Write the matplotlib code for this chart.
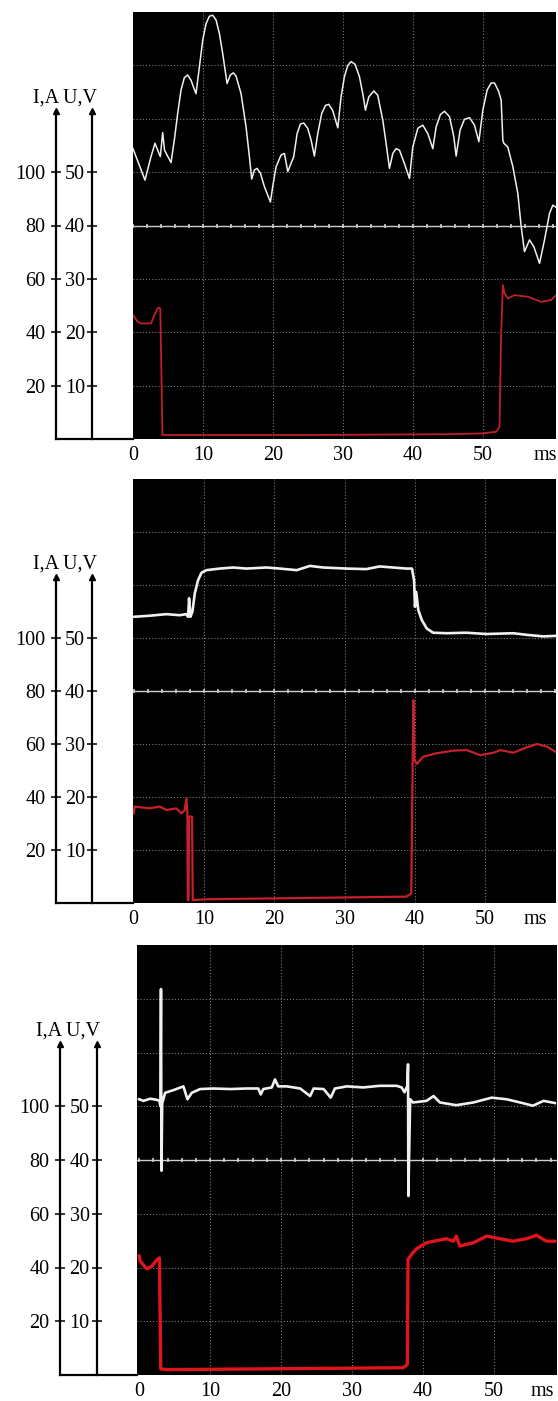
import numpy as np
import matplotlib
matplotlib.use("Agg")
import matplotlib.pyplot as plt
from matplotlib import transforms

plt.rcParams['font.family'] = ['Liberation Serif', 'DejaVu Serif']

# ---------------- data ----------------
# Panel 1
t1_u = [0.0, 1.71, 2.57, 3.14, 3.9, 4.24, 4.5, 5.43, 5.9, 6.38, 6.86, 7.33, 7.81, 8.29, 8.76, 9.0,
        9.48, 9.95, 10.43, 10.9, 11.38, 11.86, 12.33, 12.81, 13.43, 13.9, 14.33, 14.71, 15.43, 16.14,
        16.62, 16.95, 17.33, 17.71, 18.19, 18.76, 19.62, 19.95, 20.43, 21.14, 21.62, 22.1, 22.95,
        23.43, 23.9, 24.38, 24.95, 25.43, 25.9, 26.38, 26.95, 27.48, 27.95, 28.5, 29.24, 29.71,
        30.19, 30.67, 31.14, 31.71, 32.33, 32.81, 33.19, 33.67, 34.38, 34.95, 35.67, 36.14, 36.62,
        37.1, 37.57, 38.05, 38.76, 39.48, 39.95, 40.67, 41.38, 42.1, 42.81, 43.29, 43.9, 44.48,
        45.19, 45.81, 46.14, 46.71, 47.33, 48.05, 48.76, 49.38, 49.95, 50.57, 51.14, 51.62, 52.19,
        52.57, 52.81, 52.95, 53.52, 54.24, 54.95, 55.43, 55.9, 56.62, 57.24, 58.05, 58.76, 59.48,
        59.95, 60.67]
u1 = [54.4, 48.5, 52.9, 55.4, 52.9, 57.4, 54.1, 51.8, 56.0, 61.0, 65.4, 67.7, 68.2, 67.2, 65.5, 64.7,
      69.7, 74.7, 77.8, 79.2, 79.4, 78.5, 76.0, 72.2, 66.6, 68.2, 68.6, 68.0, 64.7, 58.5,
      52.9, 48.7, 50.4, 50.7, 49.8, 47.3, 44.4, 47.3, 51.0, 53.2, 53.5, 50.1, 52.9,
      57.2, 59.0, 59.2, 58.2, 56.0, 53.0, 57.2, 61.0, 62.5, 62.7, 61.6, 58.3, 64.1,
      67.9, 70.0, 70.7, 70.2, 67.9, 64.7, 61.6, 64.1, 65.2, 64.4, 59.7, 55.4, 50.7,
      53.5, 54.4, 54.1, 51.6, 48.8, 54.7, 58.2, 58.8, 57.2, 54.4, 58.5, 60.8, 61.4,
      60.4, 56.6, 53.0, 57.9, 59.9, 60.2, 58.8, 55.7, 61.6, 65.4, 66.7, 66.7, 65.2,
      63.5, 56.0, 55.4, 54.7, 51.0, 46.0, 39.8, 35.1, 37.3, 36.0, 32.9, 37.3, 42.3,
      43.8, 43.2]
t1_i = [0.0, 0.67, 1.14, 2.57, 3.05, 3.62, 3.9, 4.2, 4.24, 25.0, 45.0, 49.9, 51.86, 52.33, 52.57,
        52.81, 53.05, 53.52, 54.48, 56.38, 58.29, 59.71, 60.43]
i1 = [46.4, 43.9, 43.3, 43.3, 46.4, 49.3, 48.9, 1.5, 1.5, 1.5, 1.8, 2.1, 2.7, 4.6, 39.6,
      57.7, 54.6, 52.7, 53.9, 53.3, 51.4, 52.1, 53.9]

# Panel 2
t2_u = [0.0, 2.28, 4.65, 6.55, 7.5, 7.74, 7.88, 8.07, 8.36, 8.69, 9.16, 9.64, 10.35, 12.25, 14.15,
        16.05, 18.9, 20.8, 23.2, 25.07, 26.97, 30.3, 33.1, 35.0, 38.8, 39.6, 39.9, 40.03, 40.2,
        40.5, 41.0, 41.7, 42.6, 44.5, 47.3, 50.2, 54.0, 55.9, 58.3, 59.97]
u2 = [54.0, 54.2, 54.5, 54.3, 54.5, 54.0, 57.5, 54.0, 55.0, 58.4, 60.9, 62.3, 62.8, 63.1, 63.3,
      63.1, 63.3, 63.1, 62.8, 63.6, 63.3, 63.1, 63.0, 63.5, 63.1, 63.1, 60.9, 55.9, 58.7,
      55.3, 53.4, 51.8, 51.0, 50.9, 51.0, 50.75, 50.9, 50.6, 50.3, 50.4]
t2_i = [0.0, 0.14, 2.28, 3.7, 4.65, 6.08, 6.79, 7.26, 7.5, 7.64, 7.7, 7.8, 7.88, 8.31, 8.4, 10.35,
        38.8, 39.5, 39.8, 39.94, 40.3, 41.2, 43.1, 45.5, 47.4, 49.3, 51.2, 52.2, 54.0, 55.9,
        57.4, 58.8, 60.0]
i2 = [33.8, 36.4, 35.7, 36.4, 35.1, 35.7, 33.8, 35.1, 39.5, 33.8, 1.1, 1.1, 32.6, 32.6, 1.1, 1.4,
      2.4, 3.6, 76.6, 54.0, 52.5, 55.2, 56.5, 57.5, 57.7, 55.8, 56.7, 57.7, 56.7, 58.7,
      60.0, 59.0, 57.1]

# Panel 3
t3_u = [0.0, 0.61, 1.55, 2.49, 2.86, 3.0, 3.08, 3.15, 3.25, 3.66, 4.84, 6.24, 6.81, 7.42, 8.59,
        10.47, 12.82, 15.16, 16.8, 17.14, 17.5, 18.7, 19.15, 19.6, 20.8, 22.7, 24.1, 24.6, 26.0,
        27.0, 27.6, 29.3, 31.6, 33.9, 36.3, 37.0, 37.4, 37.8, 37.9, 37.95, 38.2, 38.6, 40.5,
        41.5, 42.4, 44.7, 47.1, 49.7, 51.8, 53.7, 55.5, 57.0, 58.6]
u3 = [51.3, 51.0, 51.4, 51.2, 51.0, 50.0, 71.8, 38.0, 50.5, 52.5, 53.0, 53.7, 51.3, 52.5, 53.2,
      53.3, 53.2, 53.3, 53.3, 52.2, 53.2, 53.5, 55.0, 53.7, 53.7, 53.3, 51.9, 53.3, 53.2,
      51.6, 53.3, 53.7, 53.5, 53.8, 53.8, 53.5, 52.6, 53.8, 57.8, 33.3, 51.3, 50.7, 51.0,
      51.9, 50.7, 50.2, 50.7, 51.6, 51.3, 50.7, 50.1, 51.0, 50.6]
t3_i = [0.0, 0.14, 1.08, 1.78, 2.49, 2.86, 3.05, 3.9, 37.2, 37.8, 37.9, 38.4, 39.1, 40.5, 41.5,
        43.3, 44.3, 44.7, 45.2, 47.1, 49.0, 50.85, 52.7, 54.6, 56.0, 57.4, 58.6]
i3 = [44.3, 42.4, 39.5, 40.5, 42.8, 43.6, 2.3, 2.0, 2.7, 3.9, 43.0, 44.9, 47.0, 49.2, 49.8,
      50.7, 49.8, 51.7, 48.0, 49.2, 51.7, 50.7, 49.8, 50.7, 52.0, 49.8, 49.8]

u_ticks = [10, 20, 30, 40, 50]
i_ticks = [20, 40, 60, 80, 100]
t_ticks = [0, 10, 20, 30, 40, 50]
t_tick_labels = ['0', '10', '20', '30', '40', '50']
time_unit = 'ms'
axes_title = 'I,A U,V'

# ---------------- layout / style ----------------
W, H = 558, 1401
fig = plt.figure(figsize=(W / 100, H / 100), dpi=100)

FS = 14.5
GRID_C = '#7c7c7c'
WHITE = '#f0f0f0'

panels = [
    dict(px=(133, 12, 556, 439), xlim=(0, 60.4), xI=-0.182, xU=-0.097, xt=-0.160, ms_x=58.9,
         tu=t1_u, u=u1, ti=t1_i, i=i1, lw_u=1.1, lw_i=1.3, red='#c0202a'),
    dict(px=(133, 479, 556, 903), xlim=(-0.1, 60.1), xI=-0.182, xU=-0.097, xt=-0.160, ms_x=57.1,
         tu=t2_u, u=u2, ti=t2_i, i=i2, lw_u=1.9, lw_i=1.6, red='#c8202a'),
    dict(px=(137, 945, 557, 1375), xlim=(-0.3, 58.9), xI=-0.183, xU=-0.096, xt=-0.164, ms_x=56.8,
         tu=t3_u, u=u3, ti=t3_i, i=i3, lw_u=1.9, lw_i=2.4, red='#e0141c'),
]

TOP_V = 61.5

for p in panels:
    x0, y0, x1, y1 = p['px']
    rect = [x0 / W, 1 - y1 / H, (x1 - x0) / W, (y1 - y0) / H]
    ax = fig.add_axes(rect)
    ax.set_facecolor('black')
    ax.set_xlim(*p['xlim'])
    ax.set_ylim(0, 80)

    # grid
    for v in range(10, 80, 10):
        if v == 40:
            continue
        ax.axhline(v, color=GRID_C, lw=0.8, ls=(0, (1, 1.8)), zorder=1)
    for tt in t_ticks[1:]:
        ax.axvline(tt, color=GRID_C, lw=0.8, ls=(0, (1, 1.8)), zorder=1)
    # center reference line with small ticks
    ax.axhline(40, color='#d0d0d0', lw=1.0, zorder=2)
    marks = np.arange(0, 61, 2)
    ax.plot(marks, np.full(marks.shape, 40.0), ls='none', marker='|', ms=3,
            mew=1.2, color='#d0d0d0', zorder=2)

    # voltage
    ax.plot(p['tu'], p['u'], color=WHITE, lw=p['lw_u'], zorder=3)

    # current on twin axis
    axi = ax.twinx()
    axi.set_ylim(0, 160)
    axi.plot(p['ti'], p['i'], color=p['red'], lw=p['lw_i'], zorder=4)

    # spines of U axis
    for s in ('top', 'right', 'bottom'):
        ax.spines[s].set_visible(False)
    ax.spines['left'].set_position(('axes', p['xU']))
    ax.spines['left'].set_bounds(0, TOP_V)
    ax.spines['left'].set_linewidth(1.6)
    ax.set_yticks(u_ticks)
    ax.set_yticklabels([str(v) for v in u_ticks])
    ax.tick_params(axis='y', direction='inout', length=7, width=1.1, pad=1.5,
                   labelsize=FS, colors='black')

    # x ticks
    ax.set_xticks(t_ticks)
    ax.set_xticklabels(t_tick_labels)
    ax.set_xticks([p['ms_x']], minor=True)
    ax.set_xticklabels([time_unit], minor=True)
    ax.tick_params(axis='x', which='both', length=0, pad=5, labelsize=FS)

    # I axis
    for s in ('top', 'right', 'bottom'):
        axi.spines[s].set_visible(False)
    axi.spines['left'].set_visible(True)
    axi.spines['left'].set_position(('axes', p['xI']))
    axi.spines['left'].set_bounds(0, 2 * TOP_V)
    axi.spines['left'].set_linewidth(1.6)
    axi.yaxis.set_ticks_position('left')
    axi.yaxis.set_label_position('left')
    axi.set_yticks(i_ticks)
    axi.set_yticklabels([str(v) for v in i_ticks])
    axi.tick_params(axis='y', direction='inout', length=7, width=1.1, pad=4,
                    labelsize=FS, colors='black')

    # baseline from I axis to panel
    ax.plot([p['xI'], 0], [0, 0], transform=ax.transAxes, color='black', lw=1.6,
            clip_on=False, solid_capstyle='projecting', zorder=5)

    # arrowheads
    bt = transforms.blended_transform_factory(ax.transAxes, ax.transData)
    for xa in (p['xI'], p['xU']):
        ax.plot([xa], [TOP_V], marker='^', ms=4.5, color='black', transform=bt,
                clip_on=False, zorder=6)

    ax.annotate(axes_title, xy=(p['xt'], TOP_V), xycoords=bt, xytext=(0, 9.5),
                textcoords='offset points', ha='center', va='center', fontsize=FS,
                annotation_clip=False)

fig.savefig('out.png', dpi=100, facecolor='white')
